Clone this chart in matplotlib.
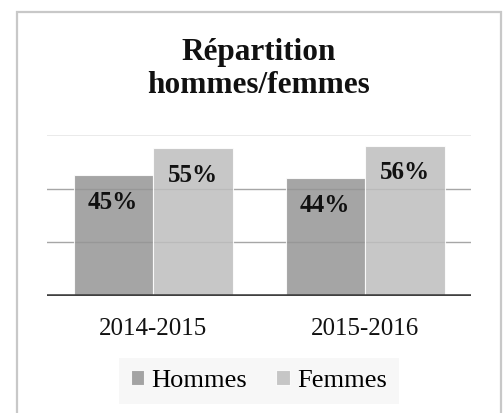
import numpy as np
import matplotlib
matplotlib.use("Agg")
import matplotlib.pyplot as plt
from matplotlib.patches import Rectangle

categories = ["2014-2015", "2015-2016"]
hommes = [45, 44]
femmes = [55, 56]
series_names = ["Hommes", "Femmes"]
title = "Répartition\nhommes/femmes"

plt.rcParams['font.family'] = ['Liberation Serif', 'DejaVu Serif']

fig = plt.figure(figsize=(5.03, 4.13), dpi=100)
ax = fig.add_axes([47 / 503, 1 - 296 / 413, 424 / 503, 161 / 413])

x = np.arange(len(categories))
w = 0.375
b1 = ax.bar(x - w / 2, hommes, w, color='#959595', alpha=0.85, edgecolor='white', linewidth=0.8, zorder=2)
b2 = ax.bar(x + w / 2, femmes, w, color='#bebebe', alpha=0.85, edgecolor='white', linewidth=0.8, zorder=2)

# gridlines at 20 / 40 drawn behind the (semi transparent) bars
for yv in [20, 40]:
    ax.axhline(yv, color='#a6a6a6', lw=1, zorder=1)
ax.axhline(60, color='#e6e6e6', lw=1.2, zorder=1)
ax.axhline(0, color='#404040', lw=2.6, zorder=3)

for bars, vals in [(b1, hommes), (b2, femmes)]:
    for rect, v in zip(bars, vals):
        ax.annotate(f"{v}%", (rect.get_x() + rect.get_width() / 2, v),
                    xytext=(0, -19.5), textcoords='offset points',
                    ha='center', va='center', fontsize=18, fontweight='bold',
                    color='#111111', zorder=4)

ax.set_xlim(-0.5, 1.5)
ax.set_ylim(0, 60)
ax.set_xticks(x)
ax.set_xticklabels(categories, fontsize=18, color='#111111')
ax.tick_params(axis='x', length=0, pad=16)
ax.set_yticks([])
for s in ax.spines.values():
    s.set_visible(False)

fig.text(259 / 503, 1 - 69 / 413, title, ha='center', va='center',
         fontsize=22.5, fontweight='bold', linespacing=1.15, color='#111111')

leg = fig.legend([b1, b2], series_names, loc='center', bbox_to_anchor=(259 / 503, 1 - 381 / 413),
                 ncol=2, fontsize=19, frameon=True, handlelength=0.5, handleheight=0.5,
                 handletextpad=0.3, columnspacing=1.1, borderpad=0.45, fancybox=False)
leg.get_frame().set_facecolor('#f7f7f7')
leg.get_frame().set_edgecolor('none')
leg.get_frame().set_alpha(1)

fig.patches.append(Rectangle((17 / 503, -0.2), 484 / 503, 1.2 - 12 / 413, transform=fig.transFigure,
                             fill=False, edgecolor='#c8c8c8', lw=1.6, zorder=0))

fig.savefig("out.png", dpi=100)
